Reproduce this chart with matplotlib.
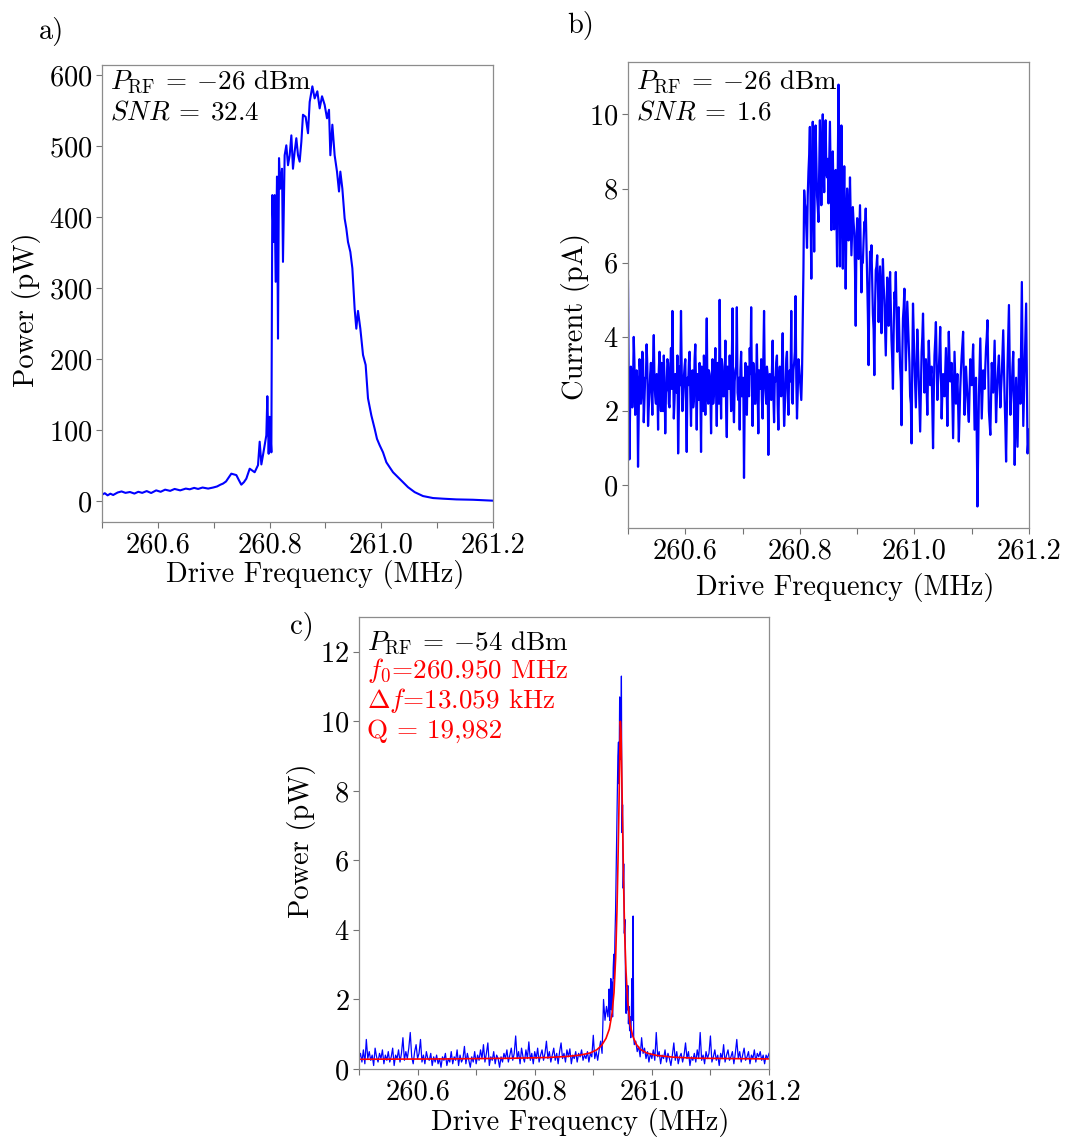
import matplotlib

matplotlib.use("Agg")
import matplotlib.pyplot as plt
import numpy as np

plt.rcParams["font.family"] = "serif"
plt.rcParams["font.serif"] = ["cmr10"]
plt.rcParams["mathtext.fontset"] = "cm"
plt.rcParams["axes.formatter.use_mathtext"] = True
plt.rcParams["font.size"] = 20.5

W, H = 1071, 1138

# ---------------------------------------------------------------------------
# data
# ---------------------------------------------------------------------------

# a) detected power vs drive frequency, P_RF = -26 dBm
a_freq = [
    260.500, 260.505, 260.510, 260.515, 260.520, 260.528, 260.535, 260.542,
    260.550, 260.558, 260.565, 260.572, 260.580, 260.588, 260.597, 260.605,
    260.613, 260.622, 260.630, 260.640, 260.650, 260.657, 260.665, 260.672,
    260.680, 260.690, 260.699, 260.706, 260.712, 260.7166, 260.722, 260.7315,
    260.7405, 260.745, 260.7494, 260.754, 260.7584, 260.7644, 260.7733,
    260.7793, 260.7823, 260.7853, 260.7882, 260.7942, 260.7960, 260.7984,
    260.8002, 260.8032, 260.8049, 260.8073, 260.8091, 260.8109, 260.8133,
    260.8151, 260.8169, 260.8193, 260.8223, 260.8240, 260.8270, 260.8300,
    260.8330, 260.8360, 260.8390, 260.8419, 260.8449, 260.8479, 260.8509,
    260.8539, 260.8569, 260.8598, 260.8646, 260.8688, 260.8718, 260.8766,
    260.8807, 260.8855, 260.8897, 260.8939, 260.8986, 260.9028, 260.9064,
    260.9088, 260.9124, 260.9165, 260.9207, 260.9243, 260.9267, 260.9303,
    260.9344, 260.9374, 260.9404, 260.9446, 260.9482, 260.9523, 260.9553,
    260.9583, 260.9625, 260.9673, 260.9720, 260.9762, 260.9822, 260.9882,
    260.9923, 260.9971, 261.0031, 261.0091, 261.0150, 261.0210, 261.0299,
    261.0389, 261.0478, 261.0598, 261.0747, 261.0926, 261.1105, 261.1344,
    261.1642, 261.2000,
]
a_power = [
    9.4, 11.5, 8.5, 10.8, 9.0, 12.5, 14.0, 12.0,
    13.2, 11.0, 13.5, 12.0, 14.5, 11.8, 15.5, 13.5,
    16.5, 14.8, 17.5, 15.5, 18.0, 17.0, 19.0, 17.5,
    19.5, 18.0, 19.5, 21.0, 23.5, 25.0, 28.0, 39.0,
    37.0, 30.0, 23.5, 27.0, 32.0, 46.0, 41.0,
    51.0, 84.0, 52.0, 65.0, 93.0, 148.0, 67.0,
    119.0, 69.0, 431.0, 365.0, 431.0, 309.0, 457.0,
    229.0, 483.0, 440.0, 468.0, 337.0, 487.0, 501.0,
    473.0, 487.0, 515.0, 468.0, 492.0, 511.0, 487.0,
    478.0, 506.0, 544.0, 541.0, 518.0, 562.0, 584.0,
    567.0, 577.0, 553.0, 570.0, 558.0, 539.0, 551.0,
    487.0, 530.0, 487.0, 464.0, 436.0, 464.0, 440.0,
    398.0, 384.0, 365.0, 351.0, 328.0, 271.0, 243.0,
    268.0, 243.0, 206.0, 192.0, 145.0, 121.0, 102.0,
    88.0, 79.0, 69.0, 55.0, 48.0, 41.0, 34.0,
    27.0, 20.0, 13.0, 7.5, 4.7, 3.8, 2.8,
    2.3, 1.0,
]

# b) detected current, 260.5 .. 261.2 MHz in 2.5 kHz steps
b_current = [
    5.5, 0.7, 3.2, 2.1, 4.0, 1.9, 3.1, 0.5, 3.4, 2.2, 3.6, 1.7, 2.9, 3.8, 1.6, 2.5, 3.3, 1.9, 4.05, 2.4,
    3.0, 1.5, 3.6, 2.0, 2.8, 3.5, 1.4, 2.6, 3.3, 2.1, 3.7, 4.7, 1.8, 3.0, 2.5, 0.86, 3.2, 4.7, 2.0, 2.9,
    3.4, 0.9, 2.7, 3.6, 1.6, 3.1, 2.3, 3.8, 1.5, 2.9, 3.3, 0.9, 2.6, 3.5, 1.9, 4.5, 2.2, 3.0, 1.4, 3.4,
    2.5, 3.7, 1.6, 2.8, 5.0, 1.8, 3.2, 2.4, 3.9, 1.3, 2.7, 3.5, 2.0, 4.77, 1.7, 3.1, 4.8, 2.3, 1.5, 3.6,
    2.6, 0.2, 3.3, 1.9, 2.8, 3.7, 4.8, 1.6, 3.0, 2.2, 3.8, 1.4, 2.9, 3.4, 1.8, 4.7, 2.5, 3.2, 0.82, 3.0,
    2.3, 3.9, 1.7, 2.8, 3.5, 1.5, 3.2, 2.4, 4.1, 1.6, 2.7, 3.6, 1.9, 3.1, 4.7, 2.2, 3.3, 5.1, 1.8, 3.4,
    2.9, 2.3, 4.5, 7.95, 7.46, 6.4, 8.45, 9.66, 5.57, 9.8, 6.3, 9.7, 7.8, 7.1, 9.84, 7.55, 10.0, 7.9, 9.84, 8.3,
    7.6, 9.8, 6.88, 9.0, 6.9, 8.5, 5.9, 10.8, 5.9, 9.7, 5.84, 8.6, 5.3, 8.0, 6.6, 8.3, 6.2, 7.5, 6.8, 4.3,
    7.2, 6.1, 7.55, 5.2, 6.0, 7.1, 7.46, 5.5, 3.24, 6.3, 6.47, 4.6, 2.97, 5.8, 6.2, 4.4, 5.9, 4.1, 6.1, 5.0,
    3.5, 5.6, 4.3, 5.75, 3.9, 2.6, 5.2, 5.75, 3.6, 4.8, 3.2, 1.62, 4.5, 5.3, 3.1, 4.95, 3.8, 2.4, 1.13, 4.9,
    3.3, 2.1, 4.2, 2.9, 1.45, 3.6, 4.63, 2.5, 3.4, 1.9, 3.9, 2.7, 3.2, 1.0, 3.5, 4.4, 2.3, 3.1, 4.27, 1.8,
    3.0, 2.4, 3.7, 1.6, 4.14, 2.8, 3.3, 1.27, 3.6, 2.2, 3.0, 1.18, 2.6, 3.5, 4.14, 1.9, 3.2, 2.4, 1.71, 3.4,
    2.7, 3.8, 1.5, 2.9, -0.57, 2.4, 3.96, 1.8, 3.1, 2.6, 3.7, 4.45, 2.0, 1.36, 3.3, 2.5, 3.9, 1.7, 2.8, 3.5,
    2.1, 3.0, 4.18, 2.3, 0.64, 3.2, 4.86, 1.9, 2.7, 3.6, 0.55, 2.9, 1.04, 3.4, 2.2, 5.48, 1.6, 3.1, 4.9, 0.86,
    1.5,
]
# b) samples half-way between the ones above
b_current_between = [
    2.6, 2.2, 3.0, 2.7, 3.3, 2.4, 2.8, 2.0, 3.1, 2.5, 3.4, 2.3, 2.9, 3.2, 2.1, 3.0, 2.6, 3.3, 2.8, 2.2,
    2.7, 3.1, 2.4, 3.3, 2.0, 2.9, 2.5, 3.4, 2.2, 3.0, 2.6, 3.2, 2.3, 2.8, 3.5, 2.1, 2.7, 3.1, 2.4, 3.2,
    2.2, 2.9, 3.3, 2.5, 2.8, 2.1, 3.4, 2.6, 3.0, 2.3, 2.7, 3.2, 2.0, 2.9, 3.3, 2.4, 3.1, 2.6, 2.8, 2.2,
    3.0, 2.5, 3.3, 2.2, 2.9, 3.4, 2.4, 2.8, 2.1, 3.2, 2.6, 2.9, 3.5, 2.3, 2.8, 3.2, 2.5, 2.9, 3.1, 2.4,
    2.9, 2.3, 2.6, 3.2, 2.4, 3.0, 2.7, 3.3, 2.2, 2.9, 2.5, 3.1, 2.6, 2.3, 3.4, 2.8, 2.2, 3.0, 2.7, 2.5,
    3.1, 2.4, 2.9, 3.3, 2.2, 2.8, 2.5, 3.2, 2.7, 2.1, 3.4, 2.6, 3.0, 2.8, 2.3, 3.1, 3.6, 2.9, 2.5, 3.2,
    2.6, 3.0, 5.8, 7.6, 6.9, 7.8, 8.9, 7.4, 8.2, 7.9, 8.6, 8.8, 7.5, 8.5, 8.9, 8.7, 8.6, 9.1, 8.4, 8.8,
    8.7, 8.3, 8.1, 7.8, 8.0, 7.4, 8.6, 8.2, 7.6, 7.9, 7.4, 7.2, 7.0, 7.5, 7.1, 7.3, 6.9, 7.1, 5.8, 6.6,
    6.7, 6.8, 6.4, 6.1, 6.6, 6.9, 6.5, 4.6, 5.2, 6.0, 5.6, 4.2, 4.8, 5.9, 5.4, 5.1, 5.0, 5.3, 5.4, 4.3,
    4.6, 5.0, 5.1, 4.8, 3.4, 4.1, 5.0, 4.7, 4.1, 4.0, 2.8, 3.4, 4.8, 4.2, 4.0, 4.4, 3.3, 2.2, 3.3, 4.1,
    2.7, 3.2, 3.6, 2.3, 2.6, 4.0, 3.5, 3.0, 2.7, 3.0, 3.3, 3.0, 2.1, 2.4, 3.9, 3.4, 2.8, 3.6, 3.0, 2.5,
    2.8, 3.1, 2.6, 3.0, 3.4, 3.1, 2.2, 2.5, 2.9, 2.6, 2.2, 1.9, 3.1, 3.8, 2.9, 2.6, 2.8, 2.0, 2.6, 3.0,
    3.3, 2.7, 2.2, 1.4, 1.0, 3.2, 2.8, 2.5, 2.9, 3.2, 4.0, 3.2, 1.7, 2.4, 2.9, 3.2, 2.8, 2.3, 3.2, 2.8,
    2.6, 3.6, 3.2, 1.6, 1.9, 4.0, 3.3, 2.3, 3.2, 2.2, 1.7, 2.0, 2.2, 2.8, 3.8, 3.5, 2.4, 4.0, 2.9, 1.2,
]

# c) detected power, P_RF = -54 dBm, three sweep segments
c_left_power = [  # 260.500 .. 260.925, 2.5 kHz steps
    0.3, 0.45, 0.2, 0.55, 0.15, 0.85, 0.3, 0.5, 0.25, 0.4, 0.1, 0.6, 0.35, 0.2, 0.45, 0.3, 0.55, 0.15, 0.4, 0.25,
    0.5, 0.2, 0.35, 0.6, 0.1, 0.4, 0.3, 0.55, 0.2, 0.45, 0.9, 0.25, 0.5, 0.3, 0.6, 1.05, 0.35, 0.15, 0.5, 0.7,
    0.3, 0.45, 0.85, 0.2, 0.4, 0.15, 0.5, 0.3, 0.25, 0.45, 0.1, 0.35, 0.2, 0.4, 0.15, 0.3, 0.05, 0.35, 0.25, 0.45,
    0.1, 0.3, 0.2, 0.5, 0.15, 0.35, 0.25, 0.55, 0.1, 0.4, 0.2, 0.3, 0.65, 0.15, 0.45, 0.25, 0.05, 0.35, 0.2, 0.5,
    0.15, 0.4, 0.25, 0.55, 0.3, 0.7, 0.2, 0.45, 0.75, 0.1, 0.35, 0.25, 0.5, 0.15, 0.4, 0.3, 0.05, 0.35, 0.2, 0.45,
    0.3, 0.55, 0.2, 0.4, 0.6, 0.25, 0.45, 0.95, 0.3, 0.5, 0.15, 0.6, 0.35, 0.2, 0.55, 0.3, 0.78, 0.25, 0.45, 0.15,
    0.5, 0.3, 0.6, 0.2, 0.4, 0.55, 0.25, 0.45, 0.8, 0.3, 0.5, 0.2, 0.4, 0.6, 0.25, 0.45, 0.15, 0.5, 0.75, 0.3,
    0.45, 0.2, 0.55, 0.35, 0.58, 0.15, 0.4, 0.3, 0.5, 0.2, 0.45, 0.35, 0.55, 0.25, 0.4, 0.3, 0.5, 0.2, 0.45, 0.35,
    0.97, 0.3, 0.5, 0.25, 0.55, 0.8, 0.45, 2.0, 1.4, 1.8, 1.5,
]
c_peak_power = [  # 260.926 .. 260.970, 1 kHz steps
    1.8, 2.3, 1.4, 2.1, 2.6, 1.7, 2.5, 1.5, 2.9, 3.3,
    2.6, 3.8, 4.5, 5.6, 6.9, 8.0, 9.0, 9.4, 8.2, 10.7,
    9.6, 8.9, 11.3, 6.8, 7.6, 5.2, 5.9, 3.9, 4.3, 2.6,
    1.6, 2.3, 1.7, 2.4, 1.3, 1.8, 1.1, 1.5, 0.9, 1.6,
    2.6, 1.4, 4.4, 0.9, 0.7,
]
c_right_power = [  # 260.9725 .. 261.200, 2.5 kHz steps
    0.8, 0.5, 0.65, 0.35, 0.9, 0.45, 0.6, 0.3, 0.5, 0.2, 0.45, 0.3, 0.55, 0.25, 1.05, 0.35, 0.5, 0.15, 0.4, 0.3,
    0.55, 0.2, 0.45, 0.3, 0.1, 0.4, 0.75, 0.25, 0.5, 0.15, 0.35, 0.45, 0.2, 0.4, 0.75, 0.3, 0.5, 0.1, 0.35, 0.25,
    0.45, 0.2, 0.55, 0.3, 1.05, 0.25, 0.4, 0.15, 0.5, 0.3, 0.45, 0.95, 0.2, 0.35, 0.55, 0.25, 0.4, 0.1, 0.45, 0.3,
    0.7, 0.2, 0.4, 0.55, 0.25, 0.35, 0.5, 0.15, 0.45, 0.85, 0.3, 0.5, 0.2, 0.4, 0.6, 0.25, 0.35, 0.5, 0.15, 0.4,
    0.3, 0.55, 0.2, 0.45, 0.35, 0.5, 0.25, 0.4, 0.15, 0.4, 0.3, 0.45,
]

# c) Lorentzian fit as drawn
fit_freq = [
    260.5000, 260.6497, 260.7635, 260.8204, 260.8546, 260.8773, 260.8944,
    260.9058, 260.9143, 260.9217, 260.9274, 260.9320, 260.9354, 260.9382,
    260.9405, 260.9422, 260.9439, 260.9451, 260.9462, 260.9474, 260.9485,
    260.9502, 260.9519, 260.9536, 260.9559, 260.9587, 260.9627, 260.9673,
    260.9730, 260.9798, 260.9912, 261.0082, 261.0367, 261.0765, 261.1335,
    261.2000,
]
fit_power = [
    0.28, 0.29, 0.31, 0.33, 0.36, 0.40, 0.46,
    0.55, 0.68, 0.88, 1.15, 1.6, 2.2, 3.2,
    4.6, 6.0, 7.6, 8.9, 10.0, 9.7, 8.6,
    6.9, 5.2, 3.9, 2.8, 1.95, 1.3, 0.95,
    0.72, 0.57, 0.46, 0.39, 0.34, 0.31, 0.30,
    0.29,
]

x_ticks = [260.5, 260.6, 260.7, 260.8, 260.9, 261.0, 261.1, 261.2]
x_tick_labels = ["", "260.6", "", "260.8", "", "261.0", "", "261.2"]

b_values = np.empty(len(b_current) + len(b_current_between))
b_values[0::2] = b_current
b_values[1::2] = b_current_between
b_freq = np.linspace(260.5, 261.2, len(b_values))

c_freq = np.concatenate([
    np.linspace(260.5, 260.925, len(c_left_power)),
    np.linspace(260.926, 260.970, len(c_peak_power)),
    np.linspace(260.9725, 261.2, len(c_right_power)),
])
c_power = np.concatenate([c_left_power, c_peak_power, c_right_power])

ANNOT_SIZE = 19.5


def px_axes(fig, left, top, right, bottom):
    """Add axes from a pixel box (origin top-left)."""
    return fig.add_axes([left / W, 1 - bottom / H, (right - left) / W, (bottom - top) / H])


def style_axes(ax):
    for sp in ax.spines.values():
        sp.set_color("0.55")
        sp.set_linewidth(0.9)
    ax.tick_params(direction="out", length=4, width=0.8, color="0.45", pad=3)
    ax.set_xlim(260.5, 261.2)
    ax.set_xticks(x_ticks)
    ax.set_xticklabels(x_tick_labels)


def fig_text(x, y, s, **kw):
    kw.setdefault("ha", "left")
    kw.setdefault("va", "baseline")
    fig.text(x / W, 1 - y / H, s, **kw)


def y_label(x, y, s):
    fig_text(x, y, s, ha="center", va="center", rotation=90)


fig = plt.figure(figsize=(W / 100, H / 100), dpi=100)

# a)
ax_a = px_axes(fig, 102, 65, 493, 522)
ax_a.plot(a_freq, a_power, color="#0000ff", lw=1.5)
ax_a.set_ylim(-29, 614)
ax_a.set_yticks([0, 100, 200, 300, 400, 500, 600])
style_axes(ax_a)
y_label(27, 310, "Power (pW)")
fig_text(315.5, 582, "Drive Frequency (MHz)", ha="center")
fig_text(110, 88, r"$P_{\rm RF}\:=\:{-}26$ dBm", fontsize=ANNOT_SIZE)
fig_text(110, 120, r"$SNR\:=\:32.4$", fontsize=ANNOT_SIZE)

# b)
ax_b = px_axes(fig, 628, 62, 1029, 528)
ax_b.plot(b_freq, b_values, color="#0000ff", lw=1.6)
ax_b.set_ylim(-1.15, 11.41)
ax_b.set_yticks([0, 2, 4, 6, 8, 10])
style_axes(ax_b)
y_label(575, 316, "Current (pA)")
fig_text(845, 595, "Drive Frequency (MHz)", ha="center")
fig_text(636, 88, r"$P_{\rm RF}\:=\:{-}26$ dBm", fontsize=ANNOT_SIZE)
fig_text(636, 120, r"$SNR\:=\:1.6$", fontsize=ANNOT_SIZE)

# c)
ax_c = px_axes(fig, 359, 617, 769, 1069)
ax_c.plot(c_freq, c_power, color="#0000ff", lw=0.9)
ax_c.plot(fit_freq, fit_power, color="#ff0000", lw=1.2)
ax_c.set_ylim(0, 13)
ax_c.set_yticks([0, 2, 4, 6, 8, 10, 12])
style_axes(ax_c)
y_label(301, 841, "Power (pW)")
fig_text(580, 1130, "Drive Frequency (MHz)", ha="center")
fig_text(367, 649, r"$P_{\rm RF}\:=\:{-}54$ dBm", fontsize=ANNOT_SIZE)
fig_text(367, 678, r"$f_0$=260.950 MHz", color="#ff0000", fontsize=ANNOT_SIZE)
fig_text(367, 708, r"$\Delta f$=13.059 kHz", color="#ff0000", fontsize=ANNOT_SIZE)
fig_text(367, 738, "Q = 19,982", color="#ff0000", fontsize=ANNOT_SIZE)

# panel letters
fig.text(39 / W, 1 - 17 / H, "a)", va="top", ha="left")
fig.text(567 / W, 1 - 11 / H, "b)", va="top", ha="left")
fig.text(290 / W, 1 - 612 / H, "c)", va="top", ha="left")

fig.savefig("out.png", dpi=100)
